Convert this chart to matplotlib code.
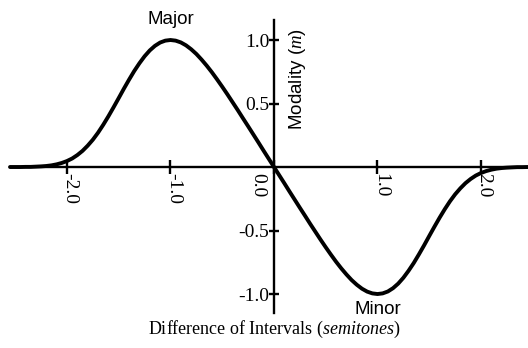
import matplotlib
matplotlib.use("Agg")
import matplotlib.pyplot as plt
from matplotlib.transforms import ScaledTranslation

plt.rcParams['font.family'] = ['Liberation Serif', 'DejaVu Serif']
plt.rcParams['mathtext.fontset'] = 'custom'
plt.rcParams['mathtext.rm'] = 'Liberation Serif'
plt.rcParams['mathtext.it'] = 'Liberation Serif:italic'

# Difference of intervals (semitones) and modality values
diff = [-2.55, -2.50, -2.45, -2.40, -2.35, -2.30, -2.25, -2.20, -2.15, -2.10,
        -2.05, -2.00, -1.95, -1.90, -1.85, -1.80, -1.75, -1.70, -1.65, -1.60,
        -1.55, -1.50, -1.45, -1.40, -1.35, -1.30, -1.25, -1.20, -1.15, -1.10,
        -1.05, -1.00, -0.95, -0.90, -0.85, -0.80, -0.75, -0.70, -0.65, -0.60,
        -0.55, -0.50, -0.45, -0.40, -0.35, -0.30, -0.25, -0.20, -0.15, -0.10,
        -0.05, 0.00, 0.05, 0.10, 0.15, 0.20, 0.25, 0.30, 0.35, 0.40,
        0.45, 0.50, 0.55, 0.60, 0.65, 0.70, 0.75, 0.80, 0.85, 0.90,
        0.95, 1.00, 1.05, 1.10, 1.15, 1.20, 1.25, 1.30, 1.35, 1.40,
        1.45, 1.50, 1.55, 1.60, 1.65, 1.70, 1.75, 1.80, 1.85, 1.90,
        1.95, 2.00, 2.05, 2.10, 2.15, 2.20, 2.25, 2.30, 2.35, 2.40,
        2.45, 2.50]
modality = [0.000, 0.000, 0.000, 0.001, 0.001, 0.003, 0.005, 0.008, 0.013, 0.021,
            0.032, 0.047, 0.067, 0.094, 0.127, 0.168, 0.215, 0.270, 0.332, 0.399,
            0.470, 0.543, 0.617, 0.688, 0.756, 0.817, 0.872, 0.918, 0.954, 0.980,
            0.995, 1.000, 0.995, 0.981, 0.958, 0.927, 0.890, 0.846, 0.798, 0.746,
            0.690, 0.632, 0.572, 0.510, 0.448, 0.384, 0.321, 0.257, 0.193, 0.128,
            0.064, 0.000, -0.064, -0.128, -0.193, -0.257, -0.321, -0.384, -0.448, -0.510,
            -0.572, -0.632, -0.690, -0.746, -0.798, -0.846, -0.890, -0.927, -0.958, -0.981,
            -0.995, -1.000, -0.995, -0.980, -0.954, -0.918, -0.872, -0.817, -0.756, -0.688,
            -0.617, -0.543, -0.470, -0.399, -0.332, -0.270, -0.215, -0.168, -0.127, -0.094,
            -0.067, -0.047, -0.032, -0.021, -0.013, -0.008, -0.005, -0.003, -0.001, -0.001,
            0.000, 0.000]

xticks = [-2.0, -1.0, 0.0, 1.0, 2.0]
xticklabels = ['-2.0', '-1.0', '0.0', '1.0', '2.0']
yticks = [1.0, 0.5, -0.5, -1.0]
yticklabels = ['1.0', '0.5', '-0.5', '-1.0']

fig = plt.figure(figsize=(5.28, 3.48), dpi=100)
ax = fig.add_axes([0, 0, 1, 1])
ax.set_xlim(-2.647, 2.454)
ax.set_ylim(-1.425, 1.315)

ax.plot(diff, modality, color='black', lw=2.8, solid_joinstyle='round',
        solid_capstyle='round', zorder=3)

for s in ['top', 'right']:
    ax.spines[s].set_visible(False)
ax.spines['left'].set_position(('data', 0))
ax.spines['bottom'].set_position(('data', 0))
ax.spines['left'].set_bounds(-1.15, 1.157)
ax.spines['bottom'].set_bounds(-2.55, 2.454)
for s in ['left', 'bottom']:
    ax.spines[s].set_linewidth(1.7)
    ax.spines[s].set_zorder(4)

ax.set_xticks(xticks)
ax.set_xticklabels(xticklabels)
ax.set_yticks(yticks)
ax.set_yticklabels(yticklabels)
ax.tick_params(axis='x', direction='inout', length=10, width=1.7,
               labelsize=14, labelrotation=-90, pad=-1)
ax.tick_params(axis='y', direction='inout', length=7, width=1.7,
               labelsize=14, pad=0)
for lab in ax.get_xticklabels():
    lab.set_verticalalignment('top')
    if lab.get_text() == '0.0':
        lab.set_transform(lab.get_transform() +
                          ScaledTranslation(-12 / 72, 0, fig.dpi_scale_trans))
    else:
        lab.set_transform(lab.get_transform() +
                          ScaledTranslation(2 / 72, 0, fig.dpi_scale_trans))

sans = ['Liberation Sans', 'DejaVu Sans']
ax.text(0.225, 0.69, 'Modality ($\\mathit{m}$)', rotation=90, ha='center',
        va='center', fontsize=13.5, family=sans)
ax.text(-1.0, 1.165, 'Major', ha='center', va='center', fontsize=13.5,
        family=sans)
ax.text(1.0, -1.12, 'Minor', ha='center', va='center', fontsize=13.5,
        family=sans)
ax.text(0.0, -1.275, 'Difference of Intervals ($semitones$)', ha='center',
        va='center', fontsize=13)

fig.savefig('out.png', dpi=100)
